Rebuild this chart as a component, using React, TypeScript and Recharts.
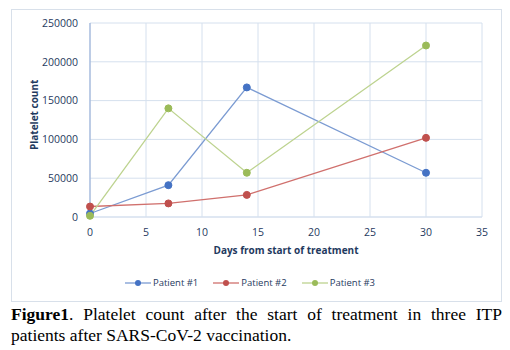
import { LineChart, Line, XAxis, YAxis, CartesianGrid, Legend } from 'recharts'

const days = [0, 7, 14, 30]
const patient1 = [4500, 41000, 167000, 57000]
const patient2 = [13500, 17500, 28500, 102000]
const patient3 = [1500, 140000, 57000, 221000]
const xTicks = [0, 5, 10, 15, 20, 25, 30, 35]
const yTicks = [0, 50000, 100000, 150000, 200000, 250000]

const series = [
  { key: 'p1', name: 'Patient #1', color: '#4472C4', line: '#7B9BD2' },
  { key: 'p2', name: 'Patient #2', color: '#C0504D', line: '#D0706D' },
  { key: 'p3', name: 'Patient #3', color: '#9BBB59', line: '#BDD38F' },
]

const data = days.map((d, i) => ({ day: d, p1: patient1[i], p2: patient2[i], p3: patient3[i] }))

const axisText = '#1F3A60'
const font = '"Open Sans", "Liberation Sans", sans-serif'

const renderLegend = () => (
  <div style={{ display: 'flex', justifyContent: 'center', gap: 15, fontFamily: font, fontSize: 9.5, color: axisText, paddingLeft: 6, paddingTop: 9 }}>
    {series.map(s => (
      <div key={s.key} style={{ display: 'flex', alignItems: 'center' }}>
        <svg width={26} height={10} style={{ marginRight: 2 }}>
          <line x1={0} y1={5} x2={26} y2={5} stroke={s.line} strokeWidth={1.3} />
          <circle cx={13} cy={5} r={3} fill={s.color} />
        </svg>
        <span>{s.name}</span>
      </div>
    ))}
  </div>
)

export default function App() {
  return (
    <div style={{ marginLeft: 3, marginTop: 1 }}>
      <div style={{ width: 489, height: 291, border: '1px solid #D8E0EA', background: '#fff' }}>
        <LineChart width={489} height={291} data={data} margin={{ top: 13, right: 19, left: 0, bottom: 0 }}>
          <CartesianGrid stroke="#D5E0EE" strokeWidth={1} />
          <XAxis
            dataKey="day"
            type="number"
            domain={[0, 35]}
            ticks={xTicks}
            height={50}
            axisLine={{ stroke: '#D5E0EE' }}
            tickLine={false}
            tick={{ fontSize: 10.5, fill: axisText, fontFamily: font }}
            tickMargin={6}
            label={{ value: 'Days from start of treatment', position: 'insideBottom', offset: 13, style: { fontSize: 10, fontWeight: 'bold', fill: axisText, fontFamily: font } }}
          />
          <YAxis
            type="number"
            domain={[0, 250000]}
            ticks={yTicks}
            width={78}
            axisLine={{ stroke: '#8FA9D4' }}
            tickLine={false}
            tick={{ fontSize: 10.5, fill: axisText, fontFamily: font }}
            tickMargin={6}
            label={{ value: 'Platelet count', angle: -90, position: 'insideLeft', offset: 22, dy: 30, style: { fontSize: 10, fontWeight: 'bold', fill: axisText, fontFamily: font } }}
          />
          <Legend verticalAlign="bottom" height={34} content={renderLegend} />
          {series.map(s => (
            <Line
              key={s.key}
              dataKey={s.key}
              name={s.name}
              stroke={s.line}
              strokeWidth={1.3}
              dot={{ r: 3.5, fill: s.color, stroke: s.color, strokeWidth: 1 }}
              isAnimationActive={false}
            />
          ))}
        </LineChart>
      </div>
      <div style={{ width: 491, fontFamily: '"Liberation Serif", serif', fontSize: 17.5, lineHeight: '21px', color: '#000', marginTop: 2 }}>
        <div style={{ textAlign: 'justify', textAlignLast: 'justify' }}>
          <b>Figure1</b>. Platelet count after the start of treatment in three ITP
        </div>
        <div>patients after SARS-CoV-2 vaccination.</div>
      </div>
    </div>
  )
}
